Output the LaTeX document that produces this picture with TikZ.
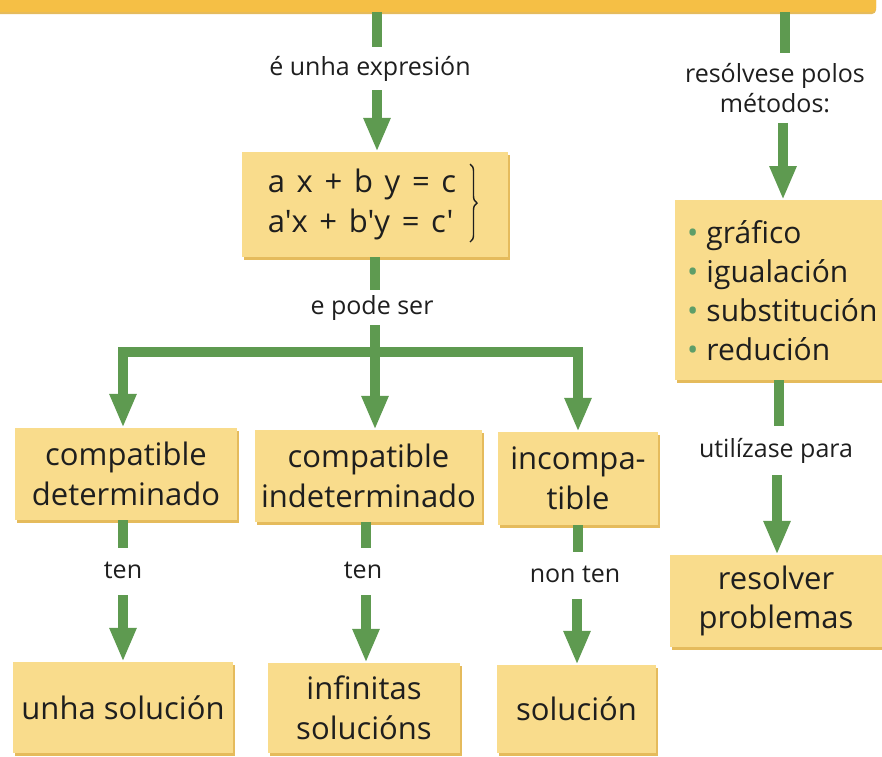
\documentclass[tikz,border=0pt]{standalone}
\usepackage{fontspec}
\setmainfont{Open Sans}
\newfontfamily\eqfont{Open Sans}[WordSpace=1.45, Ligatures=TeXOff]
\usetikzlibrary{arrows.meta,shadows,decorations.pathreplacing}
\definecolor{boxfill}{HTML}{F9DC8C}
\definecolor{boxshadow}{HTML}{E5BB5C}
\definecolor{barfill}{HTML}{F5BF45}
\definecolor{grn}{HTML}{5E9A50}
\definecolor{bulgrn}{HTML}{5E9E68}
\definecolor{txt}{HTML}{1E1E1E}
\newcommand{\bul}{{\color{bulgrn}•}\hspace{8pt}}
\tikzset{
  box/.style={fill=boxfill, inner sep=0pt, align=center, text=txt,
    font=\fontsize{31}{39.5}\selectfont,
    drop shadow={shadow xshift=2pt, shadow yshift=-3pt, fill=boxshadow, opacity=1}},
  lbl/.style={font=\fontsize{25}{30}\selectfont, text=txt, align=center, inner xsep=2pt,
    text height=19pt, text depth=6pt, anchor=base},
  conn/.style={grn, line width=10pt},
  arr/.style={grn, line width=10pt, -{Triangle[width=25pt,length=34pt]}},
  bracestyle/.style={decorate, decoration={brace, amplitude=7pt}, line width=1.4pt, txt},
}
\begin{document}
\begin{tikzpicture}[x=1pt,y=-1pt]
\useasboundingbox (0,0) rectangle (882,756);
% top bar
\node[fill=barfill, minimum width=886, minimum height=28, inner sep=0pt, rounded corners=4pt,
  drop shadow={shadow xshift=0pt, shadow yshift=-2pt, fill=boxshadow, opacity=1}] (top) at (433,-2) {};
% left branch
\node[lbl, inner ysep=9pt] (l1) at (370,75) {é unha expresión};
\node[box, minimum width=266, minimum height=105] (eq) at (375,204.5)
  {{\eqfont\fontsize{31}{40}\selectfont\begin{tabular}{@{}l@{}}a x + b y = c\\a'x + b'y = c'\end{tabular}}\hspace{26pt}};
\draw[bracestyle] (470,164) -- (470,242);
\node[lbl, inner ysep=5pt] (l2) at (372,314) {e pode ser};
\coordinate (j) at (375,352);
\coordinate (c1) at (123,352);
\coordinate (c3) at (578,352);
\node[box, minimum width=222, minimum height=92] (cd) at (126,474) {compatible\\determinado};
\node[box, minimum width=227, minimum height=92] (ci) at (368.5,476) {compatible\\indeterminado};
\node[box, minimum width=160, minimum height=93] (inc) at (578,478.5) {incompa-\\tible};
\node[lbl, inner ysep=11pt] (t1) at (123,578) {ten};
\node[lbl, inner ysep=11pt] (t2) at (363,578) {ten};
\node[lbl, inner ysep=11pt] (t3) at (575,582) {non ten};
\node[box, minimum width=220, minimum height=91] (s1) at (123,707.5) {unha solución};
\node[box, minimum width=192, minimum height=90] (s2) at (364,708) {infinitas\\solucións};
\node[box, minimum width=159, minimum height=88] (s3) at (576.5,709) {solución};
% right branch
\node[font=\fontsize{25}{30}\selectfont, text=txt, align=center, inner xsep=2pt, inner ysep=10pt]
  (r1) at (775,88) {resólvese polos\\métodos:};
\node[box, anchor=north west, text width=193, minimum height=180, align=left, inner xsep=12pt,
  font=\fontsize{30}{39}\selectfont] (met) at (675,200)
  {\bul gráfico\\\bul igualación\\\bul substitución\\\bul redución};
\node[lbl, inner ysep=12pt] (r2) at (776,457) {utilízase para};
\node[box, minimum width=212, minimum height=92] (rp) at (776,601) {resolver\\problemas};
% connectors
\draw[conn] (top.south -| 377,0) -- (l1.north -| 377,0);
\draw[arr] (l1.south -| 377,0) -- (eq.north -| 377,0);
\draw[conn] (eq.south -| j) -- (l2.north -| j);
\draw[conn] (l2.south -| j) -- (j);
\draw[conn, line cap=rect] (c1) -- (c3);
\draw[arr] (c1) -- (c1 |- cd.north);
\draw[arr] (j) -- (j |- ci.north);
\draw[arr] (c3) -- (c3 |- inc.north);
\draw[conn] (cd.south -| c1) -- (t1.north -| c1);
\draw[arr] (t1.south -| c1) -- (s1.north -| c1);
\draw[conn] (ci.south -| 366,0) -- (t2.north -| 366,0);
\draw[arr] (t2.south -| 366,0) -- (s2.north -| 366,0);
\draw[conn] (inc.south -| c3) -- (t3.north -| c3);
\draw[arr] (t3.south -| 577,0) -- (s3.north -| 577,0);
\draw[conn] (top.south -| 785,0) -- (r1.north -| 785,0);
\draw[arr] (r1.south -| 783,0) -- (met.north -| 783,0);
\draw[conn] (met.south -| 779,0) -- (r2.north -| 779,0);
\draw[arr] (r2.south -| 777,0) -- (rp.north -| 777,0);
\end{tikzpicture}
\end{document}
